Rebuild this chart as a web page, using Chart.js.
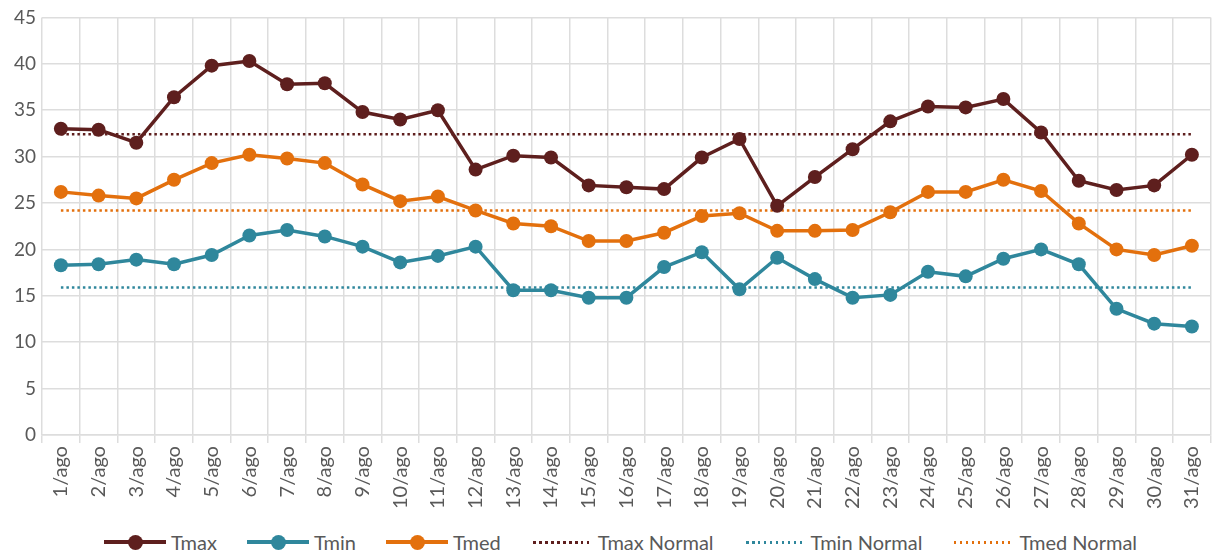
<!DOCTYPE html>
<html lang="es">
<head>
<meta charset="UTF-8">
<title>Temperaturas agosto</title>
<script src="https://cdn.jsdelivr.net/npm/chart.js"></script>
<style>
  body { margin: 0; background: #fff; font-family: Lato, "Open Sans", sans-serif; }
  .wrap { width: 1219px; height: 556px; position: relative; }
  .chartbox { position: absolute; left: 0; top: 0; width: 1219px; height: 512px; }
  .legend { position: absolute; top: 530px; left: 0; width: 1219px; height: 24px; display: flex; justify-content: center; align-items: center; font-size: 20px; color: #595959; padding-left: 22px; box-sizing: border-box; }
  .item { display: flex; align-items: center; margin: 0 15px; }
  .sym { position: relative; width: 62px; height: 15px; margin-right: 5px; }
  .sym .ln { position: absolute; left: 0; right: 0; top: 5px; border-top: 4px solid; }
  .sym .dt { position: absolute; left: 24px; top: 0; width: 15px; height: 15px; border-radius: 50%; }
  .sym .dl { position: absolute; left: 2px; right: 2px; top: 6px; height: 3px; }
</style>
</head>
<body>
<div class="wrap">
  <div class="chartbox"><canvas id="c"></canvas></div>
  <div class="legend" id="legend"></div>
</div>
<script>
const days = ['1/ago','2/ago','3/ago','4/ago','5/ago','6/ago','7/ago','8/ago','9/ago','10/ago','11/ago','12/ago','13/ago','14/ago','15/ago','16/ago','17/ago','18/ago','19/ago','20/ago','21/ago','22/ago','23/ago','24/ago','25/ago','26/ago','27/ago','28/ago','29/ago','30/ago','31/ago'];

const tmax = [33.0, 32.9, 31.5, 36.4, 39.8, 40.3, 37.8, 37.9, 34.8, 34.0, 35.0, 28.6, 30.1, 29.9, 26.9, 26.7, 26.5, 29.9, 31.9, 24.7, 27.8, 30.8, 33.8, 35.4, 35.3, 36.2, 32.6, 27.4, 26.4, 26.9, 30.2];
const tmin = [18.3, 18.4, 18.9, 18.4, 19.4, 21.5, 22.1, 21.4, 20.3, 18.6, 19.3, 20.3, 15.6, 15.6, 14.8, 14.8, 18.1, 19.7, 15.7, 19.1, 16.8, 14.8, 15.1, 17.6, 17.1, 19.0, 20.0, 18.4, 13.6, 12.0, 11.7];
const tmed = [26.2, 25.8, 25.5, 27.5, 29.3, 30.2, 29.8, 29.3, 27.0, 25.2, 25.7, 24.2, 22.8, 22.5, 20.9, 20.9, 21.8, 23.6, 23.9, 22.0, 22.0, 22.1, 24.0, 26.2, 26.2, 27.5, 26.3, 22.8, 20.0, 19.4, 20.4];

// normales: linea horizontal del primer al ultimo dia
const tmaxNormal = 32.4;
const tminNormal = 15.9;
const tmedNormal = 24.2;

const yTicks = [0, 5, 10, 15, 20, 25, 30, 35, 40, 45];

const cMax = '#5E1F1E', cMin = '#2F879C', cMed = '#E3700D';

function serie(label, data, color) {
  return { label, data, borderColor: color, backgroundColor: color, borderWidth: 3.5,
    pointRadius: 7, pointHoverRadius: 7, pointBackgroundColor: color, pointBorderWidth: 0,
    tension: 0, order: 1 };
}
function normal(label, v, color) {
  return { label, data: [{ x: days[0], y: v }, { x: days[days.length - 1], y: v }],
    borderColor: color, borderWidth: 2.5, borderDash: [2.5, 3], pointRadius: 0, order: 2 };
}

const datasets = [
  serie('Tmax', tmax, cMax),
  serie('Tmin', tmin, cMin),
  serie('Tmed', tmed, cMed),
  normal('Tmax Normal', tmaxNormal, cMax),
  normal('Tmin Normal', tminNormal, cMin),
  normal('Tmed Normal', tmedNormal, cMed)
];

new Chart(document.getElementById('c'), {
  type: 'line',
  data: { labels: days, datasets },
  options: {
    responsive: true, maintainAspectRatio: false, animation: false,
    layout: { padding: { top: 6, right: 6, left: 8, bottom: 0 } },
    plugins: { legend: { display: false }, tooltip: { enabled: false } },
    scales: {
      x: {
        offset: true,
        grid: { offset: true, color: '#DDDDDD', lineWidth: 1.5, tickLength: 8, drawTicks: true },
        border: { color: '#DDDDDD', width: 1.5 },
        ticks: { color: '#595959', font: { family: 'Lato', size: 20 }, minRotation: 90, maxRotation: 90, autoSkip: false, padding: 3 }
      },
      y: {
        min: 0, max: 45,
        afterBuildTicks: (s) => { s.ticks = yTicks.map(v => ({ value: v })); },
        grid: { color: '#DDDDDD', lineWidth: 1.5, drawTicks: false },
        border: { display: false },
        ticks: { color: '#595959', font: { family: 'Lato', size: 19 }, padding: 6 }
      }
    }
  }
});

// leyenda
const lg = document.getElementById('legend');
datasets.forEach(d => {
  const it = document.createElement('div');
  it.className = 'item';
  const sym = document.createElement('div');
  sym.className = 'sym';
  if (d.borderDash) {
    const dl = document.createElement('div');
    dl.className = 'dl';
    dl.style.background = `repeating-linear-gradient(90deg, ${d.borderColor} 0 2.5px, transparent 2.5px 6px)`;
    sym.appendChild(dl);
  } else {
    const ln = document.createElement('div');
    ln.className = 'ln'; ln.style.borderColor = d.borderColor;
    const dt = document.createElement('div');
    dt.className = 'dt'; dt.style.background = d.borderColor;
    sym.appendChild(ln); sym.appendChild(dt);
  }
  const tx = document.createElement('span');
  tx.textContent = d.label;
  it.appendChild(sym); it.appendChild(tx);
  lg.appendChild(it);
});
</script>
</body>
</html>
